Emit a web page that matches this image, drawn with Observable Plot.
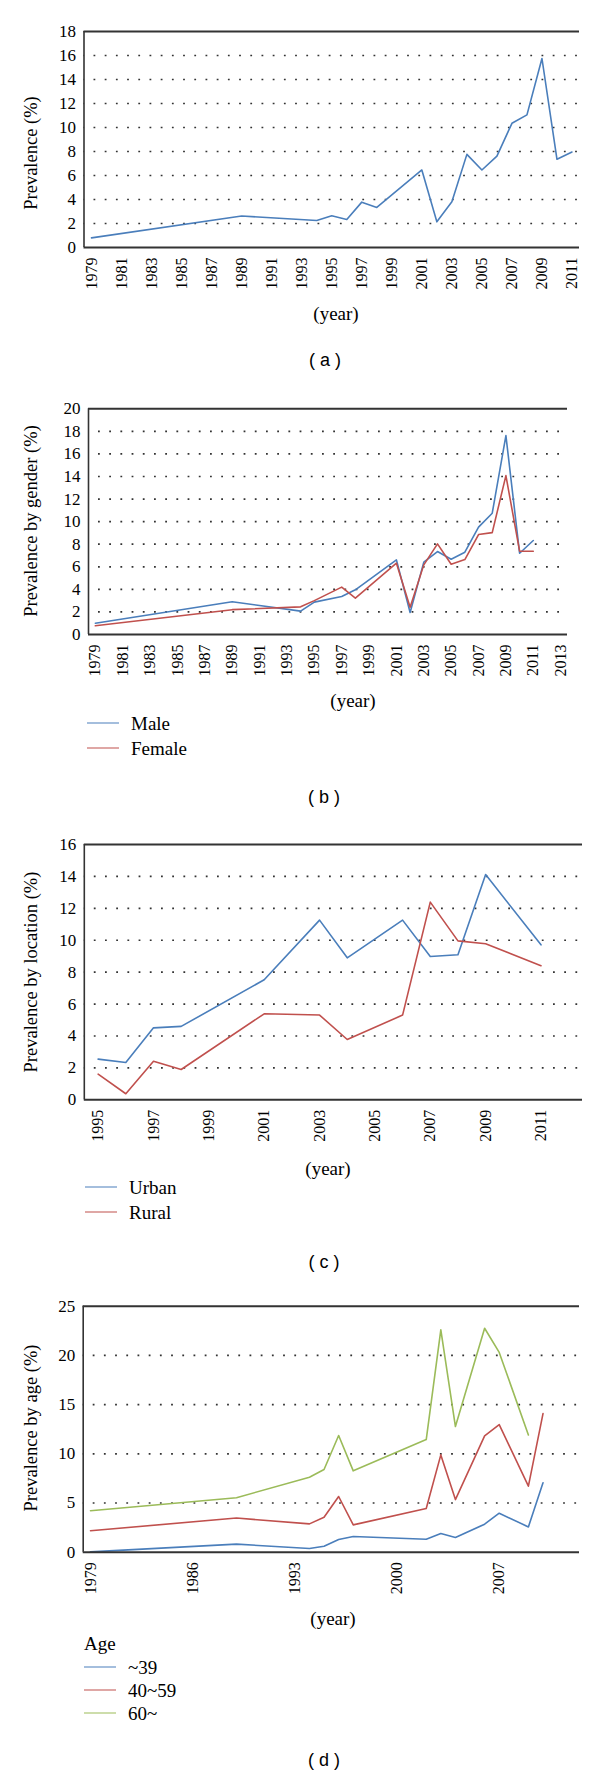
<!DOCTYPE html>
<html>
<head>
<meta charset="utf-8">
<script src="https://cdn.jsdelivr.net/npm/d3@7"></script>
<script src="https://cdn.jsdelivr.net/npm/@observablehq/plot@0.6"></script>
<style>
  body { margin: 0; background: #fff; }
  #root { position: relative; width: 600px; height: 1775px; font-family: "Liberation Serif", "Times New Roman", serif; color: #000; overflow: hidden; }
  #root svg text { font-family: "Liberation Serif", "Times New Roman", serif; }
  .ytitle { position: absolute; transform: translate(-50%, -50%) rotate(-90deg); font-size: 18.5px; line-height: 1; white-space: nowrap; }
  .xtitle { position: absolute; transform: translate(-50%, -50%); font-size: 19px; line-height: 1; white-space: nowrap; }
  .plab { position: absolute; transform: translate(-50%, -50%); font-family: "Liberation Sans", Arial, sans-serif; font-size: 18px; line-height: 1; white-space: pre; }
  .leg { position: absolute; font-size: 19px; line-height: 1; display: flex; align-items: center; white-space: nowrap; transform: translateY(-50%); }
  .leg .sw { width: 32px; height: 0; border-top: 1.6px solid; margin-right: 12px; }
  .legtitle { position: absolute; font-size: 19px; line-height: 1; transform: translateY(-50%); }
</style>
</head>
<body>
<div id="root"></div>
<script>
// ---------- data ----------
const yearsA = [1979, 1989, 1994, 1995, 1996, 1997, 1998, 2001, 2002, 2003, 2004, 2005, 2006, 2007, 2008, 2009, 2010, 2011];
const prevalenceA = [0.8, 2.62, 2.25, 2.64, 2.34, 3.78, 3.34, 6.46, 2.14, 3.81, 7.76, 6.46, 7.62, 10.35, 11.05, 15.75, 7.35, 7.96];

const yearsB = [1979, 1989, 1994, 1995, 1997, 1998, 2001, 2002, 2003, 2004, 2005, 2006, 2007, 2008, 2009, 2010, 2011];
const maleB = [1.0, 2.9, 2.07, 2.87, 3.37, 3.96, 6.61, 1.95, 6.41, 7.35, 6.67, 7.29, 9.51, 10.75, 17.63, 7.2, 8.33];
const femaleB = [0.77, 2.2, 2.45, 3.0, 4.2, 3.22, 6.32, 2.42, 6.17, 8.03, 6.23, 6.64, 8.86, 9.03, 14.08, 7.38, 7.38];

const yearsC = [1995, 1996, 1997, 1998, 2001, 2003, 2004, 2006, 2007, 2008, 2009, 2011];
const urbanC = [2.55, 2.34, 4.51, 4.6, 7.52, 11.26, 8.9, 11.26, 8.98, 9.09, 14.12, 9.71];
const ruralC = [1.61, 0.38, 2.42, 1.9, 5.39, 5.31, 3.78, 5.31, 12.39, 9.96, 9.78, 8.4];

const yearsD = [1979, 1989, 1994, 1995, 1996, 1997, 2002, 2003, 2004, 2006, 2007, 2009, 2010];
const ageUnder39D = [0.03, 0.82, 0.37, 0.61, 1.29, 1.59, 1.32, 1.9, 1.49, 2.85, 3.96, 2.57, 7.05];
const age40to59D = [2.18, 3.47, 2.88, 3.56, 5.66, 2.78, 4.44, 9.89, 5.35, 11.82, 12.97, 6.71, 14.09];
const age60overD = [4.22, 5.54, 7.62, 8.4, 11.86, 8.27, 11.45, 22.6, 12.77, 22.76, 20.3, 11.92, null];

const xTicksA = [1979, 1981, 1983, 1985, 1987, 1989, 1991, 1993, 1995, 1997, 1999, 2001, 2003, 2005, 2007, 2009, 2011];
const xTicksB = [1979, 1981, 1983, 1985, 1987, 1989, 1991, 1993, 1995, 1997, 1999, 2001, 2003, 2005, 2007, 2009, 2011, 2013];
const xTicksC = [1995, 1997, 1999, 2001, 2003, 2005, 2007, 2009, 2011];
const xTicksD = [1979, 1986, 1993, 2000, 2007];
const yTicksA = [0, 2, 4, 6, 8, 10, 12, 14, 16, 18];
const yTicksB = [0, 2, 4, 6, 8, 10, 12, 14, 16, 18, 20];
const yTicksC = [0, 2, 4, 6, 8, 10, 12, 14, 16];
const yTicksD = [0, 5, 10, 15, 20, 25];

const BLUE = "#4a7ebb", RED = "#c0504d", GREEN = "#9bbb59";
const SERIF = "'Liberation Serif', 'Times New Roman', serif";

const root = document.getElementById("root");

function rows(years, values) {
  return years.map((year, i) => ({year, value: values[i]})).filter(d => d.value != null);
}

function panel(cfg) {
  const yMax = cfg.yTicks[cfg.yTicks.length - 1];
  const grid = cfg.yTicks.slice(1, -1);
  const marks = [
    Plot.ruleY(grid, {stroke: "#333", strokeWidth: 1.7, strokeDasharray: "1.8,9.4", strokeDashoffset: -10}),
    Plot.ruleY([yMax], {stroke: "#333", strokeWidth: 2}),
    Plot.ruleX([cfg.xDomain[0]], {stroke: "#333", strokeWidth: 1.6}),
    ...cfg.series.map(s => Plot.line(rows(cfg.years, s.values), {x: "year", y: "value", stroke: s.color, strokeWidth: 1.6})),
    Plot.ruleY([0], {stroke: "#333", strokeWidth: 2}),
    Plot.axisX(cfg.xTicks, {tickRotate: -90, tickSize: 0, tickPadding: 10, tickFormat: d => String(d), fontSize: 16, fontFamily: SERIF, fill: "#000", label: null}),
    Plot.axisY(cfg.yTicks, {tickSize: 0, tickPadding: 8, fontSize: 17, fontFamily: SERIF, fill: "#000", label: null})
  ];
  const svg = Plot.plot({
    width: 600,
    height: cfg.height,
    marginTop: cfg.mTop,
    marginBottom: cfg.mBottom,
    marginLeft: cfg.mLeft,
    marginRight: cfg.mRight,
    style: "background: transparent; font-family: 'Liberation Serif', 'Times New Roman', serif; color: #000; overflow: visible;",
    x: {domain: cfg.xDomain},
    y: {domain: [0, yMax]},
    marks
  });
  svg.style.position = "absolute";
  svg.style.left = "0px";
  svg.style.top = cfg.top + "px";
  root.appendChild(svg);
}

function text(cls, str, x, y) {
  const d = document.createElement("div");
  d.className = cls;
  d.textContent = str;
  d.style.left = x + "px";
  d.style.top = y + "px";
  root.appendChild(d);
}

function legendItem(str, color, x, y) {
  const d = document.createElement("div");
  d.className = "leg";
  d.style.left = x + "px";
  d.style.top = y + "px";
  const sw = document.createElement("span");
  sw.className = "sw";
  sw.style.borderTopColor = color;
  const t = document.createElement("span");
  t.textContent = str;
  d.appendChild(sw);
  d.appendChild(t);
  root.appendChild(d);
}

// (a)
panel({top: 0, height: 300, mTop: 31, mBottom: 53, mLeft: 83.5, mRight: 21,
  xDomain: [1978.5, 2011.5], xTicks: xTicksA, yTicks: yTicksA, years: yearsA,
  series: [{values: prevalenceA, color: BLUE}]});
text("ytitle", "Prevalence (%)", 31, 153);
text("xtitle", "(year)", 336, 313);
text("plab", "( a )", 325, 360);

// (b)
panel({top: 380, height: 310, mTop: 28.3, mBottom: 56, mLeft: 88, mRight: 33,
  xDomain: [1978.5, 2013.5], xTicks: xTicksB, yTicks: yTicksB, years: yearsB,
  series: [{values: maleB, color: BLUE}, {values: femaleB, color: RED}]});
text("ytitle", "Prevalence by gender (%)", 31, 521);
text("xtitle", "(year)", 353, 700);
legendItem("Male", BLUE, 87, 723);
legendItem("Female", RED, 87, 748);
text("plab", "( b )", 324, 797);

// (c)
panel({top: 820, height: 340, mTop: 24, mBottom: 60.7, mLeft: 83.8, mRight: 18,
  xDomain: [1994.5, 2012.5], xTicks: xTicksC, yTicks: yTicksC, years: yearsC,
  series: [{values: urbanC, color: BLUE}, {values: ruralC, color: RED}]});
text("ytitle", "Prevalence by location (%)", 31, 972);
text("xtitle", "(year)", 328, 1168);
legendItem("Urban", BLUE, 85, 1187);
legendItem("Rural", RED, 85, 1212);
text("plab", "( c )", 324, 1262);

// (d)
panel({top: 1280, height: 330, mTop: 25.7, mBottom: 58.3, mLeft: 82.7, mRight: 21,
  xDomain: [1978.5, 2012.5], xTicks: xTicksD, yTicks: yTicksD, years: yearsD,
  series: [{values: ageUnder39D, color: BLUE}, {values: age40to59D, color: RED}, {values: age60overD, color: GREEN}]});
text("ytitle", "Prevalence by age (%)", 31, 1428);
text("xtitle", "(year)", 333, 1618);
text("legtitle", "Age", 84, 1643);
legendItem("~39", BLUE, 84, 1667);
legendItem("40~59", RED, 84, 1690);
legendItem("60~", GREEN, 84, 1713);
text("plab", "( d )", 324, 1760);
</script>
</body>
</html>
